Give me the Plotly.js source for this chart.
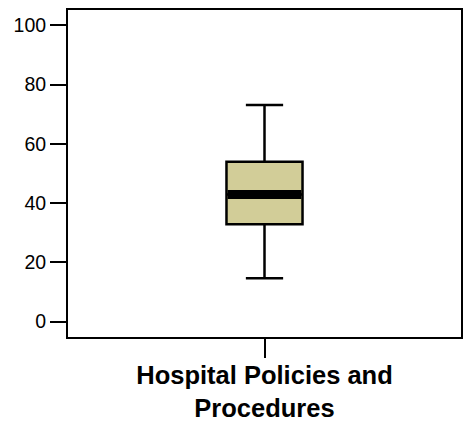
<!DOCTYPE html>
<html>
<head>
<meta charset="utf-8">
<script src="https://cdn.plot.ly/plotly-3.0.1.min.js"></script>
<style>html,body{margin:0;padding:0;background:#fff;}</style>
</head>
<body>
<div id="chart" style="width:463px;height:427px;"></div>
<script>
// Data
var categories = ["Hospital Policies and Procedures"];
var q1Values = [32.9];
var medianValues = [42.9];
var q3Values = [54.0];
var lowerWhisker = [14.6];
var upperWhisker = [73.1];
var yTicks = [0, 20, 40, 60, 80, 100];

var xPos = [0];
var boxWidth = 0.387;

var boxTrace = {
  type: 'box',
  x: xPos,
  q1: q1Values,
  median: medianValues,
  q3: q3Values,
  lowerfence: lowerWhisker,
  upperfence: upperWhisker,
  width: boxWidth,
  whiskerwidth: 0.49,
  fillcolor: '#d2cd98',
  line: {color: '#000000', width: 2.5},
  boxpoints: false,
  hoverinfo: 'skip',
  showlegend: false
};

// Thick median band (SPSS style)
var medianTrace = {
  type: 'scatter',
  mode: 'lines',
  x: [xPos[0] - boxWidth / 2 + 0.006, xPos[0] + boxWidth / 2 - 0.006],
  y: [medianValues[0], medianValues[0]],
  line: {color: '#000000', width: 9},
  hoverinfo: 'skip',
  showlegend: false
};

var layout = {
  width: 463,
  height: 427,
  margin: {l: 68, r: 2, t: 10, b: 90},
  paper_bgcolor: '#ffffff',
  plot_bgcolor: '#ffffff',
  font: {family: 'Arial, "Liberation Sans", sans-serif', color: '#000000'},
  showlegend: false,
  xaxis: {
    range: [-1, 1],
    tickvals: xPos,
    ticktext: ['<b>' + 'Hospital Policies and<br>Procedures' + '</b>'],
    ticks: 'outside',
    ticklen: 19,
    tickwidth: 2,
    tickcolor: '#000',
    tickfont: {size: 25.5, color: '#000'},
    ticklabelstandoff: -5,
    showline: true,
    linewidth: 2,
    linecolor: '#000',
    mirror: true,
    showgrid: false,
    zeroline: false,
    fixedrange: true
  },
  yaxis: {
    range: [-5.2, 105.2],
    tickvals: yTicks,
    ticktext: yTicks.map(String),
    ticks: 'outside',
    ticklen: 16,
    tickwidth: 2,
    tickcolor: '#000',
    tickfont: {size: 19.5, color: '#000'},
    showline: true,
    linewidth: 2,
    linecolor: '#000',
    mirror: true,
    showgrid: false,
    zeroline: false,
    fixedrange: true
  }
};

Plotly.newPlot('chart', [boxTrace, medianTrace], layout, {displayModeBar: false, staticPlot: true});
</script>
</body>
</html>
